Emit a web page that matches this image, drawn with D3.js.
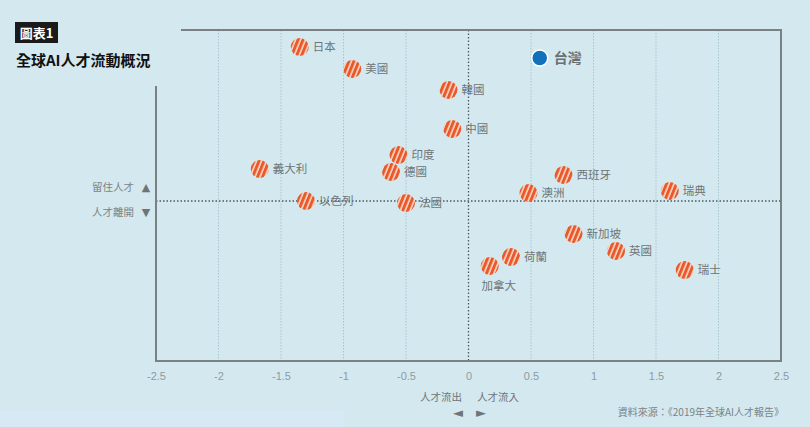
<!DOCTYPE html>
<html>
<head>
<meta charset="utf-8">
<script src="https://cdn.jsdelivr.net/npm/d3@7"></script>
<style>
  body { margin: 0; background: #d3e9ef; }
  svg { display: block; }
</style>
</head>
<body>
<div id="chart"></div>
<script>
// 國家 / 人才流動 (x) / 留住 vs 離開 (y)
var countries = ["日本","美國","韓國","中國","印度","德國","義大利","以色列","法國",
                 "西班牙","澳洲","瑞典","新加坡","英國","瑞士","荷蘭","加拿大"]
var flowX = [-1.35,-0.93,-0.16,-0.13,-0.56,-0.62,-1.67,-1.30,-0.50,
             0.76,0.48,1.61,0.84,1.18,1.73,0.34,0.17]
var stayY = [1.54,1.32,1.11,0.72,0.46,0.29,0.32,0.00,-0.02,
             0.26,0.08,0.10,-0.33,-0.50,-0.69,-0.56,-0.65]
var taiwan = { name: "台灣", x: 0.57, y: 1.43 }
var xTicks = [-2.5,-2,-1.5,-1,-0.5,0,0.5,1,1.5,2,2.5]
var xTickLabels = ["-2.5","-2","-1.5","-1","-0.5","0","0.5","1","1.5","2","2.5"]

var W = 810, H = 427
var cjk = "'Noto Sans CJK TC', 'Noto Sans', sans-serif"

var svg = d3.select("#chart").append("svg")
    .attr("width", W)
    .attr("height", H)

svg.append("rect").attr("width", W).attr("height", H).attr("fill", "#d3e9ef")
svg.append("rect").attr("x", 0).attr("y", 411).attr("width", 344).attr("height", 16)
    .attr("fill", "#d7e9f5")

// stripes
var defs = svg.append("defs")
var pat = defs.append("pattern")
    .attr("id", "stripe")
    .attr("patternUnits", "userSpaceOnUse")
    .attr("width", 4.6).attr("height", 10)
    .attr("patternTransform", "rotate(22)")
pat.append("rect").attr("width", 4.6).attr("height", 10).attr("fill", "#e8592b")
pat.append("rect").attr("x", 3).attr("width", 1.6).attr("height", 10).attr("fill", "#fbd9c9")

var x = d3.scaleLinear().domain([-2.5, 2.5]).range([156, 781])
var y = d3.scaleLinear().domain([-1.6, 1.71]).range([361, 30])

// grid
svg.append("g").selectAll("line")
    .data(xTicks.filter(d => d != 0 && Math.abs(d) < 2.5))
    .join("line")
    .attr("x1", d => x(d)).attr("x2", d => x(d))
    .attr("y1", y.range()[1]).attr("y2", y.range()[0])
    .style("stroke", "#a6c6cf")
    .style("stroke-width", 1)
    .style("stroke-dasharray", "1.5,1.5")

// zero lines
svg.append("line")
    .attr("x1", x(0)).attr("x2", x(0))
    .attr("y1", y.range()[1]).attr("y2", y.range()[0])
    .style("stroke", "#4f5a5e")
    .style("stroke-width", 1.3)
    .style("stroke-dasharray", "1.5,2")
svg.append("line")
    .attr("x1", x(-2.5)).attr("x2", x(2.5))
    .attr("y1", y(0)).attr("y2", y(0))
    .style("stroke", "#4f5a5e")
    .style("stroke-width", 1.3)
    .style("stroke-dasharray", "1.5,2")

// frame (open at top-left)
svg.append("path")
    .attr("d", "M" + x(-2.5) + ",86 V" + y.range()[0] + " H" + x(2.5) + " V" + y.range()[1] + " H181")
    .attr("fill", "none")
    .style("stroke", "#7b8083")
    .style("stroke-width", 2)

// x axis labels
var xAxis = d3.axisBottom(x).tickValues(xTicks)
    .tickFormat((d, i) => xTickLabels[i]).tickSize(0).tickPadding(11)
var gx = svg.append("g").attr("transform", "translate(0," + y.range()[0] + ")").call(xAxis)
gx.select(".domain").remove()
gx.selectAll("text")
    .attr("font-family", "'Liberation Sans Narrow', 'Liberation Sans', sans-serif")
    .attr("font-size", 11)
    .attr("fill", "#8c9ba1")

// points
svg.append("g").selectAll("circle")
    .data(countries)
    .join("circle")
    .attr("cx", (d, i) => x(flowX[i]))
    .attr("cy", (d, i) => y(stayY[i]))
    .attr("r", 9)
    .attr("fill", "url(#stripe)")

svg.append("g").selectAll("text")
    .data(countries)
    .join("text")
    .attr("x", (d, i) => d == "加拿大" ? x(flowX[i]) + 9 : x(flowX[i]) + 13)
    .attr("y", (d, i) => d == "加拿大" ? y(stayY[i]) + 24 : y(stayY[i]) + 4)
    .attr("text-anchor", d => d == "加拿大" ? "middle" : "start")
    .text(d => d)
    .attr("font-family", cjk)
    .attr("font-size", 11.5)
    .attr("fill", "#6f7477")

svg.append("circle")
    .attr("cx", x(taiwan.x)).attr("cy", y(taiwan.y))
    .attr("r", 8)
    .attr("fill", "#1172bb")
    .style("stroke", "white")
    .style("stroke-width", 1.5)
svg.append("text")
    .attr("x", x(taiwan.x) + 14).attr("y", y(taiwan.y) + 5)
    .text(taiwan.name)
    .attr("font-family", cjk)
    .attr("font-size", 14)
    .attr("font-weight", "bold")
    .attr("fill", "#6a6f72")

// title
svg.append("rect").attr("x", 15).attr("y", 22).attr("width", 43).attr("height", 21).attr("fill", "#1a1a1a")
svg.append("text").attr("x", 36.5).attr("y", 37.5).attr("text-anchor", "middle")
    .text("圖表1")
    .attr("font-family", cjk).attr("font-size", 13).attr("font-weight", "bold").attr("fill", "white")
svg.append("text").attr("x", 16).attr("y", 66)
    .text("全球AI人才流動概況")
    .attr("font-family", cjk).attr("font-size", 15).attr("font-weight", "bold").attr("fill", "#111")

// y side labels
svg.append("text").attr("x", 134).attr("y", 191).attr("text-anchor", "end")
    .text("留住人才").attr("font-family", cjk).attr("font-size", 10.5).attr("fill", "#7d8386")
svg.append("text").attr("x", 146).attr("y", 191).attr("text-anchor", "middle")
    .text("▲").attr("font-family", "DejaVu Sans").attr("font-size", 11).attr("fill", "#6f7477")
svg.append("text").attr("x", 134).attr("y", 216).attr("text-anchor", "end")
    .text("人才離開").attr("font-family", cjk).attr("font-size", 10.5).attr("fill", "#7d8386")
svg.append("text").attr("x", 146).attr("y", 216).attr("text-anchor", "middle")
    .text("▼").attr("font-family", "DejaVu Sans").attr("font-size", 11).attr("fill", "#6f7477")

// x side labels
svg.append("text").attr("x", 441).attr("y", 401).attr("text-anchor", "middle")
    .text("人才流出").attr("font-family", cjk).attr("font-size", 10.5).attr("fill", "#6f7477")
svg.append("text").attr("x", 498).attr("y", 401).attr("text-anchor", "middle")
    .text("人才流入").attr("font-family", cjk).attr("font-size", 10.5).attr("fill", "#6f7477")
svg.append("text").attr("x", 458).attr("y", 417).attr("text-anchor", "middle")
    .text("◄").attr("font-family", "DejaVu Sans").attr("font-size", 13).attr("fill", "#6f7477")
svg.append("text").attr("x", 481).attr("y", 417).attr("text-anchor", "middle")
    .text("►").attr("font-family", "DejaVu Sans").attr("font-size", 13).attr("fill", "#6f7477")

// source
svg.append("text").attr("x", 784).attr("y", 416).attr("text-anchor", "end")
    .text("資料來源：《2019年全球AI人才報告》")
    .attr("font-family", cjk).attr("font-size", 10).attr("fill", "#7d8386")
</script>
</body>
</html>
